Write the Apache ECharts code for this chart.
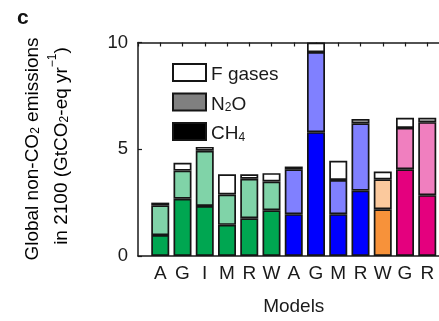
<!DOCTYPE html>
<html>
<head>
<meta charset="utf-8">
<script src="https://cdn.jsdelivr.net/npm/echarts@6/dist/echarts.min.js"></script>
<style>
  html, body { margin: 0; padding: 0; background: #fff; overflow: hidden; }
  #chart { width: 460px; height: 321px; }
</style>
</head>
<body>
<div id="chart"></div>
<script>
// Model labels along the x axis, one per bar
const models = ['A', 'G', 'I', 'M', 'R', 'W', 'A', 'G', 'M', 'R', 'W', 'G', 'R'];
// Model family of each bar, used for the colour scheme
const families = ['green', 'green', 'green', 'green', 'green', 'green',
                  'blue', 'blue', 'blue', 'blue', 'orange', 'pink', 'pink'];

// Non-CO2 emissions in 2100 by gas (GtCO2-eq / yr), stacked per model
const ch4 = [0.98, 2.68, 2.34, 1.46, 1.77, 2.14, 1.96, 5.80, 1.96, 3.06, 2.19, 4.06, 2.85];
const n2o = [1.40, 1.32, 2.59, 1.42, 1.85, 1.35, 2.10, 3.75, 1.60, 3.16, 1.40, 1.94, 3.42];
const fgases = [0.12, 0.37, 0.18, 0.95, 0.21, 0.39, 0.13, 0.45, 0.90, 0.20, 0.37, 0.47, 0.20];

// y-axis ticks
const yTicks = [0, 5, 10];

// Dark shade for CH4, light shade for N2O, per model family
const palette = {
  green:  { dark: '#00a651', light: '#80d3a8' },
  blue:   { dark: '#0000ff', light: '#8080ff' },
  orange: { dark: '#f7923a', light: '#fbc99d' },
  pink:   { dark: '#e4007e', light: '#f07fbf' }
};

// Axis slots: an empty slot before the first model and after the last one
const slots = Array.from({ length: models.length + 2 }, (_, i) => String(i));

const border = { borderColor: '#151515', borderWidth: 1.7 };

function seriesData(values, shade) {
  return values.map((v, i) => ({
    value: [i + 1, v],
    itemStyle: {
      color: shade === 'white' ? '#ffffff' : palette[families[i]][shade]
    }
  }));
}

const font = 'Liberation Sans, Arial, Helvetica, sans-serif';
const textColor = '#1a1a1a';
const fs = 19;

const rich = {
  n: { fontSize: fs, fontFamily: font, color: textColor, lineHeight: 24, verticalAlign: 'bottom' },
  s: { fontSize: 12, fontFamily: font, color: textColor, lineHeight: 12, verticalAlign: 'bottom' },
  p: { fontSize: 12, fontFamily: font, color: textColor, lineHeight: 12, verticalAlign: 'top' }
};

const legendText = {
  'F gases': '{n|F gases}',
  'N2O': '{n|N}{s|2}{n|O}',
  'CH4': '{n|CH}{s|4}'
};

const chart = echarts.init(document.getElementById('chart'), null, { renderer: 'canvas' });

const axisLineStyle = { color: '#1a1a1a', width: 1.5 };
const tickStyle = { color: '#1a1a1a', width: 1.2 };

chart.setOption({
  animation: false,
  backgroundColor: '#ffffff',
  grid: { left: 138, top: 42.5, bottom: 62, width: 311.5 },
  legend: {
    orient: 'vertical',
    left: 172,
    top: 63,
    padding: 0,
    itemWidth: 33,
    itemHeight: 17,
    itemGap: 8,
    selectedMode: false,
    data: [
      { name: 'F gases', icon: 'rect' },
      { name: 'N2O', icon: 'rect' },
      { name: 'CH4', icon: 'rect' }
    ],
    formatter: name => legendText[name],
    textStyle: { rich: rich }
  },
  xAxis: [
    {
      type: 'category',
      data: slots,
      boundaryGap: false,
      position: 'bottom',
      axisLine: { show: true, lineStyle: axisLineStyle },
      axisTick: { show: false },
      axisLabel: {
        interval: 0,
        margin: 8,
        fontSize: fs,
        fontFamily: font,
        color: textColor,
        formatter: (v, i) => (i >= 1 && i <= models.length ? models[i - 1] : '')
      },
      name: 'Models',
      nameLocation: 'middle',
      nameGap: 41,
      nameTextStyle: { fontSize: fs, fontFamily: font, color: textColor }
    },
    {
      type: 'category',
      data: slots,
      boundaryGap: false,
      position: 'top',
      axisLine: { show: true, lineStyle: axisLineStyle },
      axisTick: { show: true, inside: true, interval: 0, length: 4, lineStyle: tickStyle },
      axisLabel: { show: false }
    }
  ],
  yAxis: {
    type: 'value',
    min: yTicks[0],
    max: yTicks[yTicks.length - 1],
    interval: yTicks[1] - yTicks[0],
    splitLine: { show: false },
    axisLine: { show: true, lineStyle: axisLineStyle },
    axisTick: { show: true, inside: true, length: 4, lineStyle: tickStyle },
    axisLabel: { margin: 10, fontSize: 18.5, fontFamily: font, color: textColor }
  },
  series: [
    {
      name: 'CH4', type: 'bar', stack: 'gas', barWidth: 18,
      itemStyle: Object.assign({ color: '#000000' }, border),
      data: seriesData(ch4, 'dark')
    },
    {
      name: 'N2O', type: 'bar', stack: 'gas', barWidth: 18,
      itemStyle: Object.assign({ color: '#808080' }, border),
      data: seriesData(n2o, 'light')
    },
    {
      name: 'F gases', type: 'bar', stack: 'gas', barWidth: 18,
      itemStyle: Object.assign({ color: '#ffffff' }, border),
      data: seriesData(fgases, 'white')
    }
  ],
  graphic: [
    {
      type: 'text', left: 17, top: 8,
      style: { text: 'c', font: 'bold 21px ' + font, fill: '#111' }
    },
    {
      type: 'text', x: 30, y: 149, rotation: Math.PI / 2,
      style: {
        text: '{n|Global non-CO}{s|2}{n| emissions}',
        rich: rich, align: 'center', verticalAlign: 'middle'
      }
    },
    {
      type: 'text', x: 59, y: 146, rotation: Math.PI / 2,
      style: {
        text: '{n|in 2100 (GtCO}{s|2}{n|-eq yr}{p|−1}{n|)}',
        rich: rich, align: 'center', verticalAlign: 'middle'
      }
    }
  ]
});
</script>
</body>
</html>
